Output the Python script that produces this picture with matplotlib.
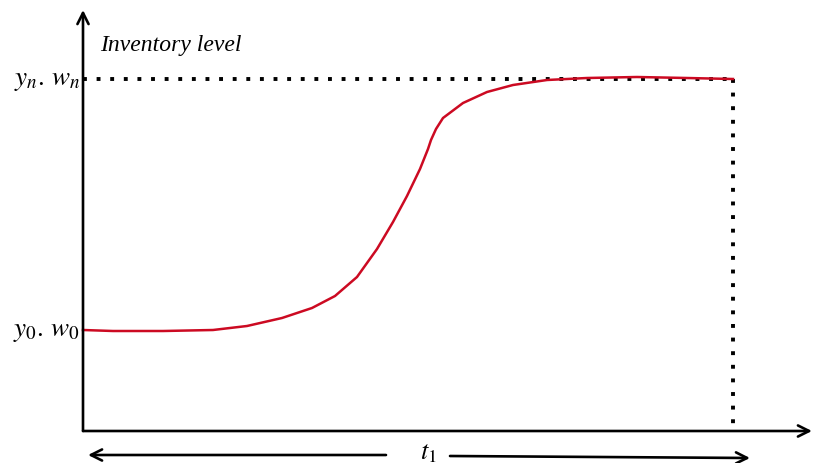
import matplotlib.pyplot as plt
import numpy as np

plt.rcParams["mathtext.fontset"] = "stix"

# inventory level over time (arbitrary units, origin at axes corner)
t = [0, 30, 80, 130, 164, 199, 229, 252, 274, 294, 310, 324, 337, 345, 348, 353,
     360, 380, 404, 430, 464, 504, 554, 604, 650]
level = [101, 100, 100, 101, 105, 113, 123, 135, 154, 182, 209, 235, 262, 282, 291, 302,
         313, 328, 339, 346, 351, 353, 354, 353, 352]
y0_level = 101
yn_level = 352
t1 = 650

fig = plt.figure(figsize=(8.14, 4.64), dpi=100)
ax = fig.add_axes([0, 0, 1, 1])
ax.set_xlim(-83, 731)
ax.set_ylim(-32, 432)
ax.axis("off")

arrow = dict(arrowstyle="->", lw=1.9, color="black", mutation_scale=20, shrinkA=0, shrinkB=0)
ax.annotate("", xy=(0, 421), xytext=(0, 0), arrowprops=arrow)
ax.annotate("", xy=(729, 0), xytext=(0, 0), arrowprops=arrow)

ax.plot([0, t1], [yn_level, yn_level], color="black", lw=2.8, linestyle=(0, (1, 2.5)))
ax.plot([t1, t1], [yn_level, 0], color="black", lw=2.8, linestyle=(0, (1, 2.5)))

ax.plot(t, level, color="#cc0a22", lw=1.8)

ax.text(17, 387, "Inventory level", fontsize=17, family="Liberation Serif", style="italic", va="center")
ax.text(-3, yn_level, r"$y_n.\,w_n$", fontsize=19.5, ha="right", va="center")
ax.text(-3, y0_level, r"$y_0.\,w_0$", fontsize=19.5, ha="right", va="center")

ax.annotate("", xy=(5, -24), xytext=(303, -24), arrowprops=arrow)
ax.annotate("", xy=(667, -27), xytext=(367, -25), arrowprops=arrow)
ax.text(345, -20, r"$t_1$", fontsize=19, ha="center", va="center")

fig.savefig("out.png", dpi=100)
